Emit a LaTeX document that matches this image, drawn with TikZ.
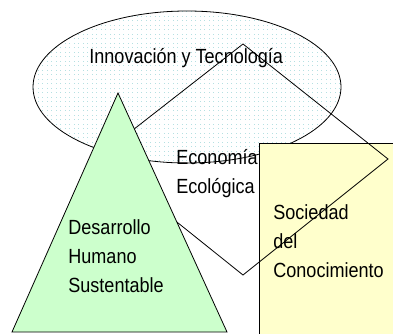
\documentclass[tikz,border=0pt]{standalone}
\usepackage{fontspec}
\setmainfont{Liberation Sans}[FakeStretch=0.88]
\usepackage{tikz}
\definecolor{dotblue}{HTML}{B5E0E2}
\definecolor{piramide}{HTML}{CCFFCC}
\definecolor{crema}{HTML}{FFFFCC}
\def\innovellipse{(187,87) ellipse [x radius=154pt, y radius=76pt]}
\def\sociedadbox{(259,143) rectangle (396,336)}
\def\piramide{(118,93) -- (227,332) -- (12,332) -- cycle}
\tikzset{lbl/.style={inner sep=0pt, anchor=base west, align=left,
    font=\fontsize{20.5}{29}\selectfont}}

\begin{document}
\begin{tikzpicture}[x=1pt,y=-1pt,line width=0.8pt]
      \useasboundingbox (0,0) rectangle (393,333);
      \clip (0,0) rectangle (393,333);
      \begin{scope}
    \clip \innovellipse;
    \fill[white] \innovellipse;
    \foreach \i in {0,...,70} {
      \foreach \j in {0,...,35} {
        \fill[dotblue] (33+4.5*\i,11+4.5*\j) rectangle +(1,1);
      }
    }
      \end{scope}
      \draw \innovellipse;
      % la base de un nodo de varias lineas es la ultima linea
      \node[lbl] (innov) at (89,63) {Innovación y Tecnología};
      \node[lbl] (econ) at (176,193) {Economía\\Ecológica};
      \fill[crema] \sociedadbox;
      \draw (259,336) |- (396,143);
      \coordinate (dtop) at (243,44);
      \coordinate (dright) at (388,159);
      \coordinate (dbottom) at (243,275);
      \coordinate (dleft) at (97,158);
      \draw (dtop) -- (dright) -- (dbottom) -- (dleft) -- cycle;
      \node[lbl] (sociedad) at (273,277) {Sociedad\\del\\Conocimiento};
      \filldraw[fill=piramide] \piramide;
      \node[lbl] (desarrollo) at (68,292) {Desarrollo\\Humano\\Sustentable};
    \end{tikzpicture}
\end{document}
